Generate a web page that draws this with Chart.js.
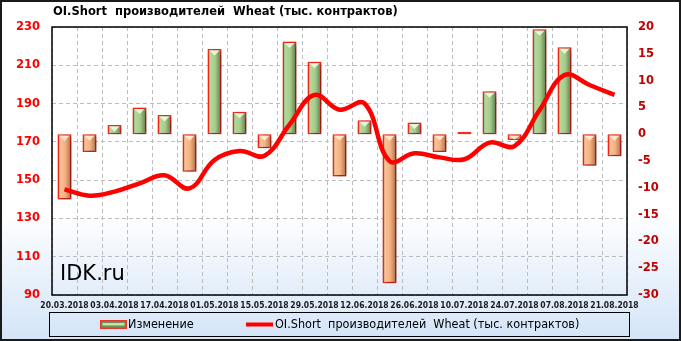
<!DOCTYPE html>
<html>
<head>
<meta charset="utf-8">
<script src="https://cdn.jsdelivr.net/npm/chart.js@4/dist/chart.umd.min.js"></script>
<style>
html,body{margin:0;padding:0;background:#fff;}
#wrap{width:681px;height:341px;position:relative;}
</style>
</head>
<body>
<div id="wrap"><canvas id="c" width="681" height="341"></canvas></div>
<script>
const titleText = 'OI.Short  производителей  Wheat (тыс. контрактов)';
const barLabel = 'Изменение';
const lineLabel = 'OI.Short  производителей  Wheat (тыс. контрактов)';
const watermark = 'IDK.ru';

const dates = ['20.03.2018','27.03.2018','03.04.2018','10.04.2018','17.04.2018','24.04.2018','01.05.2018','08.05.2018','15.05.2018','22.05.2018','29.05.2018','05.06.2018','12.06.2018','19.06.2018','26.06.2018','03.07.2018','10.07.2018','17.07.2018','24.07.2018','31.07.2018','07.08.2018','14.08.2018','21.08.2018'];
const changes = [-12.2, -3.3, 1.7, 5.0, 3.6, -7.0, 15.9, 4.2, -2.6, 17.3, 13.5, -7.9, 2.6, -27.8, 2.2, -3.3, 0.4, 8.0, -1.1, 19.6, 16.2, -5.9, -4.1];
const oiShort = [145.2, 141.9, 144.0, 148.3, 152.5, 145.7, 160.5, 165.2, 162.8, 179.0, 194.5, 186.8, 190.1, 160.0, 164.0, 161.9, 160.9, 169.6, 167.8, 186.5, 204.9, 199.7, 194.5];
const leftTicks = [90, 110, 130, 150, 170, 190, 210, 230];
const rightTicks = [-30, -25, -20, -15, -10, -5, 0, 5, 10, 15, 20];

const BAR_W = 14;

function barGradient(ctx) {
  const chart = ctx.chart;
  const v = ctx.raw;
  const pos = v >= 0;
  if (!chart.chartArea || ctx.type !== 'data' || !chart.scales.x) {
    return pos ? '#a9d18e' : '#f4b183';
  }
  const x = chart.scales.x.getPixelForValue(ctx.dataIndex);
  const g = chart.ctx.createLinearGradient(x - BAR_W / 2, 0, x + BAR_W / 2, 0);
  if (pos) {
    g.addColorStop(0, '#6f8f57');
    g.addColorStop(0.2, '#b3d89a');
    g.addColorStop(0.55, '#a6cd8b');
    g.addColorStop(0.8, '#7d9c66');
    g.addColorStop(1, '#5a7446');
  } else {
    g.addColorStop(0, '#b87a52');
    g.addColorStop(0.2, '#fbc295');
    g.addColorStop(0.55, '#f4b183');
    g.addColorStop(0.8, '#c98b5f');
    g.addColorStop(1, '#9c6340');
  }
  return g;
}

const bgPlugin = {
  id: 'bg',
  beforeDraw(chart) {
    const c = chart.ctx;
    const g = c.createLinearGradient(0, 0, 0, chart.height);
    g.addColorStop(0, '#ffffff');
    g.addColorStop(0.62, '#ffffff');
    g.addColorStop(1, '#d3e4f7');
    c.save();
    c.fillStyle = g;
    c.fillRect(0, 0, chart.width, chart.height);
    c.restore();
  },
  beforeDatasetsDraw(chart) {
    const c = chart.ctx;
    const a = chart.chartArea;
    c.save();
    c.font = '21px "DejaVu Sans"';
    c.fillStyle = '#000';
    c.textBaseline = 'alphabetic';
    c.textAlign = 'left';
    c.fillText(watermark, a.left + 8, 280);
    c.restore();
  },
  beforeDatasetDraw(chart, args) {
    if (args.meta.type === 'bar') {
      const c = chart.ctx;
      c.save();
      c.shadowColor = 'rgba(0,0,0,0.5)';
      c.shadowBlur = 7;
      c.shadowOffsetX = 3;
      c.shadowOffsetY = 2;
    }
  },
  afterDatasetDraw(chart, args) {
    if (args.meta.type === 'bar') {
      const c = chart.ctx;
      c.restore();
      // bevel triangles at the top of each bar
      c.save();
      args.meta.data.forEach((el, i) => {
        const top = Math.min(el.y, el.base);
        const h = Math.abs(el.base - el.y);
        if (h < 4) return;
        const half = el.width / 2 - 2;
        c.beginPath();
        c.moveTo(el.x - half, top + 1.5);
        c.lineTo(el.x + half, top + 1.5);
        c.lineTo(el.x, top + 1.5 + Math.min(5, h - 2));
        c.closePath();
        c.fillStyle = changes[i] >= 0 ? 'rgba(240,250,228,0.9)' : 'rgba(255,236,214,0.9)';
        c.fill();
      });
      c.restore();
    }
  },
  afterDraw(chart) {
    const c = chart.ctx;
    const a = chart.chartArea;
    c.save();
    // plot frame
    c.strokeStyle = '#000';
    c.lineWidth = 1.5;
    c.strokeRect(a.left, a.top, a.right - a.left, a.bottom - a.top);
    // outer frame
    c.lineWidth = 2;
    c.strokeStyle = '#1a1a1a';
    c.strokeRect(1, 1, chart.width - 2, chart.height - 2);
    // title
    c.font = 'bold 11.5px "DejaVu Sans"';
    c.fillStyle = '#000';
    c.textAlign = 'left';
    c.textBaseline = 'middle';
    c.fillText(titleText, 53, 12);
    // legend box
    c.lineWidth = 1;
    c.strokeStyle = '#000';
    c.strokeRect(49.5, 312.5, 580, 24);
    // bar swatch
    c.fillStyle = '#e83a2a';
    c.fillRect(100, 320, 27, 9);
    c.fillStyle = '#6f8f57';
    c.fillRect(101.5, 321.5, 24, 6);
    c.fillStyle = '#c5e2ae';
    c.fillRect(102.5, 323, 22, 2.5);
    c.font = '12.5px "DejaVu Sans Condensed"';
    c.fillStyle = '#000';
    c.textBaseline = 'middle';
    c.fillText(barLabel, 128, 325);
    // line swatch
    c.strokeStyle = '#ff0000';
    c.lineWidth = 4;
    c.beginPath();
    c.moveTo(246, 324.5);
    c.lineTo(273, 324.5);
    c.stroke();
    c.fillText(lineLabel, 275, 325);
    c.restore();
  }
};

new Chart(document.getElementById('c'), {
  data: {
    labels: dates,
    datasets: [
      {
        type: 'line',
        label: lineLabel,
        data: oiShort,
        yAxisID: 'y',
        borderColor: '#ff0000',
        borderWidth: 4.5,
        pointRadius: 0,
        pointHoverRadius: 0,
        tension: 0.4,
        fill: false,
        order: 0
      },
      {
        type: 'bar',
        label: barLabel,
        data: changes,
        yAxisID: 'y1',
        backgroundColor: barGradient,
        borderColor: '#ff2a1a',
        borderWidth: 1.5,
        borderSkipped: false,
        barPercentage: 0.56,
        categoryPercentage: 1,
        order: 1
      }
    ]
  },
  options: {
    responsive: false,
    animation: false,
    devicePixelRatio: 1,
    layout: { padding: { top: 27, left: 0, right: 0, bottom: 0 } },
    plugins: { legend: { display: false }, title: { display: false }, tooltip: { enabled: false } },
    scales: {
      x: {
        offset: true,
        grid: { display: true, offset: true, color: '#bdbdbd', lineWidth: 1, drawTicks: false },
        border: { display: false, dash: [4, 3] },
        ticks: {
          autoSkip: false, maxRotation: 0, minRotation: 0, padding: 6,
          color: '#1a1a1a',
          font: { family: '"DejaVu Sans Condensed"', weight: 'bold', size: 8.5 },
          callback: (v, i) => (i % 2 === 0 ? dates[i] : '')
        },
        afterFit: s => { s.height = 46; }
      },
      y: {
        position: 'left',
        min: leftTicks[0],
        max: leftTicks[leftTicks.length - 1],
        afterBuildTicks: s => { s.ticks = leftTicks.map(v => ({ value: v })); },
        grid: { color: '#bdbdbd', lineWidth: 1, drawTicks: false },
        border: { display: false, dash: [4, 3] },
        ticks: {
          padding: 12, color: '#ff0000',
          font: { family: '"DejaVu Sans"', weight: 'bold', size: 11.5 }
        },
        afterFit: s => { s.width = 52; }
      },
      y1: {
        position: 'right',
        min: rightTicks[0],
        max: rightTicks[rightTicks.length - 1],
        afterBuildTicks: s => { s.ticks = rightTicks.map(v => ({ value: v })); },
        grid: { display: false, drawOnChartArea: false, drawTicks: false },
        border: { display: false },
        ticks: {
          padding: 11, color: '#c00000',
          font: { family: '"DejaVu Sans"', weight: 'bold', size: 11.5 }
        },
        afterFit: s => { s.width = 54; }
      }
    }
  },
  plugins: [bgPlugin]
});
</script>
</body>
</html>
